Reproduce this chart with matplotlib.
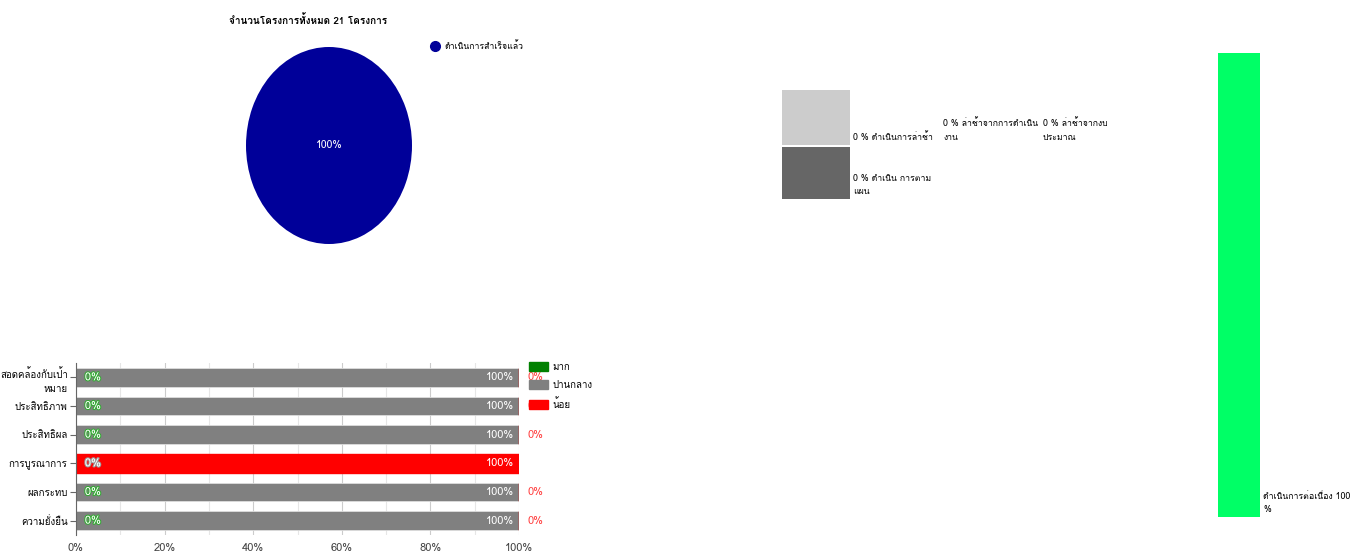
import matplotlib
matplotlib.use("Agg")
import matplotlib.pyplot as plt
import matplotlib.patheffects as pe
from matplotlib import font_manager, ft2font
from matplotlib.lines import Line2D
from matplotlib.patches import Patch

# look for any installed family that has Thai glyphs
def thai_family():
    for f in font_manager.fontManager.ttflist:
        try:
            if ord("ก") in ft2font.FT2Font(f.fname).get_charmap():
                return f.name
        except Exception:
            pass
    return None

fam = thai_family()
plt.rcParams["font.family"] = [fam, "DejaVu Sans"] if fam else ["DejaVu Sans"]
plt.rcParams["font.size"] = 7

# pie: projects total
pie_title = "จำนวนโครงการทั้งหมด 21 โครงการ"
pie_labels = ["ดำเนินการสำเร็จแล้ว"]
pie_values = [21]

# middle boxes: delay status
box_labels = ["0 % ดำเนินการล่าช้า", "0 % ดำเนิน การตาม\nแผน"]
delay_labels = ["0 % ล่าช้าจากการดำเนิน\nงาน", "0 % ล่าช้าจากงบ\nประมาณ"]

# right bar
cont_label = "ดำเนินการต่อเนื่อง 100\n%"
cont_value = 100

# bottom stacked bars
categories = ["สอดคล้องกับเป้า\nหมาย", "ประสิทธิภาพ", "ประสิทธิผล",
              "การบูรณาการ", "ผลกระทบ", "ความยั่งยืน"]
high = [0, 0, 0, 0, 0, 0]
mid = [100, 100, 100, 0, 100, 100]
low = [0, 0, 0, 100, 0, 0]
series_names = ["มาก", "ปานกลาง", "น้อย"]
series_colors = ["#008000", "#808080", "#ff0000"]

W, H = 1365, 555
fig = plt.figure(figsize=(W / 100, H / 100), dpi=100)

def fax(x0, y0, x1, y1):
    return fig.add_axes([x0 / W, 1 - y1 / H, (x1 - x0) / W, (y1 - y0) / H])

# ---- pie ----
ax = fax(246, 47, 412, 244)
ax.pie(pie_values, colors=["#000099"], startangle=90, radius=1,
       wedgeprops=dict(linewidth=0))
ax.set_aspect("auto")
ax.set_xlim(-1, 1)
ax.set_ylim(-1, 1)
ax.text(0, 0, "100%", color="white", ha="center", va="center", fontsize=7.5)
fig.text(308 / W, 1 - 20 / H, pie_title, ha="center", va="center",
         fontsize=7.2, fontweight="bold")
fig.legend([Line2D([], [], marker="o", ls="", color="#000099", markersize=7)],
           pie_labels, loc="upper left", bbox_to_anchor=(418 / W, 1 - 33 / H),
           frameon=False, handletextpad=0.1, fontsize=6.3)

# ---- middle boxes ----
ax = fax(782, 90, 1130, 199)
ax.set_xlim(0, 348)
ax.set_ylim(109, 0)
ax.axis("off")
ax.bar([34, 34], [55, 52], bottom=[0, 57], width=68,
       color=["#cccccc", "#666666"], align="center")
ax.text(71, 47, box_labels[0], va="center", fontsize=6.3)
ax.text(71, 95, box_labels[1], va="center", fontsize=6.3, linespacing=1.6)
for i, t in enumerate(delay_labels):
    ax.text(161 + i * 100, 40, t, va="center", fontsize=6.3, linespacing=1.6)

# ---- right bar ----
ax = fax(1218, 53, 1260, 517)
ax.bar([0], [cont_value], width=1, color="#00ff66")
ax.set_xlim(-0.5, 0.5)
ax.set_ylim(0, cont_value)
ax.axis("off")
fig.text(1263 / W, 1 - 503 / H, cont_label, ha="left", va="center",
         fontsize=6.3, linespacing=1.6)

# ---- bottom stacked bars ----
ax = fax(76, 363, 519, 535)
y = list(range(len(categories)))
ax.barh(y, high, color=series_colors[0], height=0.65, edgecolor="#dddddd", lw=0.6)
ax.barh(y, mid, left=high, color=series_colors[1], height=0.65,
        edgecolor="#dddddd", lw=0.6)
left2 = [a + b for a, b in zip(high, mid)]
ax.barh(y, low, left=left2, color=series_colors[2], height=0.65,
        edgecolor=series_colors[2], lw=1)
ax.set_xlim(0, 100)
ax.set_ylim(len(categories) - 0.5, -0.5)
ax.set_yticks(y)
ax.set_yticklabels(categories, fontsize=7, linespacing=1.7)
ax.set_xticks(range(0, 101, 20))
ax.set_xticklabels([f"{v}%" for v in range(0, 101, 20)], fontsize=8, color="#444444")
ax.set_xticks(range(10, 100, 20), minor=True)
ax.tick_params(axis="x", which="both", length=0, pad=6)
ax.tick_params(axis="y", length=4, color="#666666", pad=2)
ax.grid(axis="x", which="major", color="#cccccc", lw=0.8)
ax.grid(axis="x", which="minor", color="#e6e6e6", lw=0.8)
ax.set_axisbelow(True)
for s in ["top", "right", "bottom"]:
    ax.spines[s].set_visible(False)
ax.spines["left"].set_color("#666666")

for i in y:
    stroke = "#33aa33" if mid[i] > 0 else "#999999"
    ax.text(2, i, f"{high[i]}%", color="white", va="center", fontsize=8,
            path_effects=[pe.withStroke(linewidth=1.5, foreground=stroke)])
    tot = high[i] + mid[i] + low[i]
    ax.text(tot - 1, i, f"{max(mid[i], low[i])}%", color="white",
            va="center", ha="right", fontsize=8)
    if low[i] == 0:
        ax.text(tot + 2, i, f"{low[i]}%", color="#ff4040", va="center",
                fontsize=8, clip_on=False)

fig.legend([Patch(color=c) for c in series_colors], series_names,
           loc="upper left", bbox_to_anchor=(520 / W, 1 - 353 / H),
           frameon=False, fontsize=7, handlelength=2.0, handleheight=1.1,
           labelspacing=0.85, handletextpad=0.4)

fig.savefig("out.png", dpi=100)
